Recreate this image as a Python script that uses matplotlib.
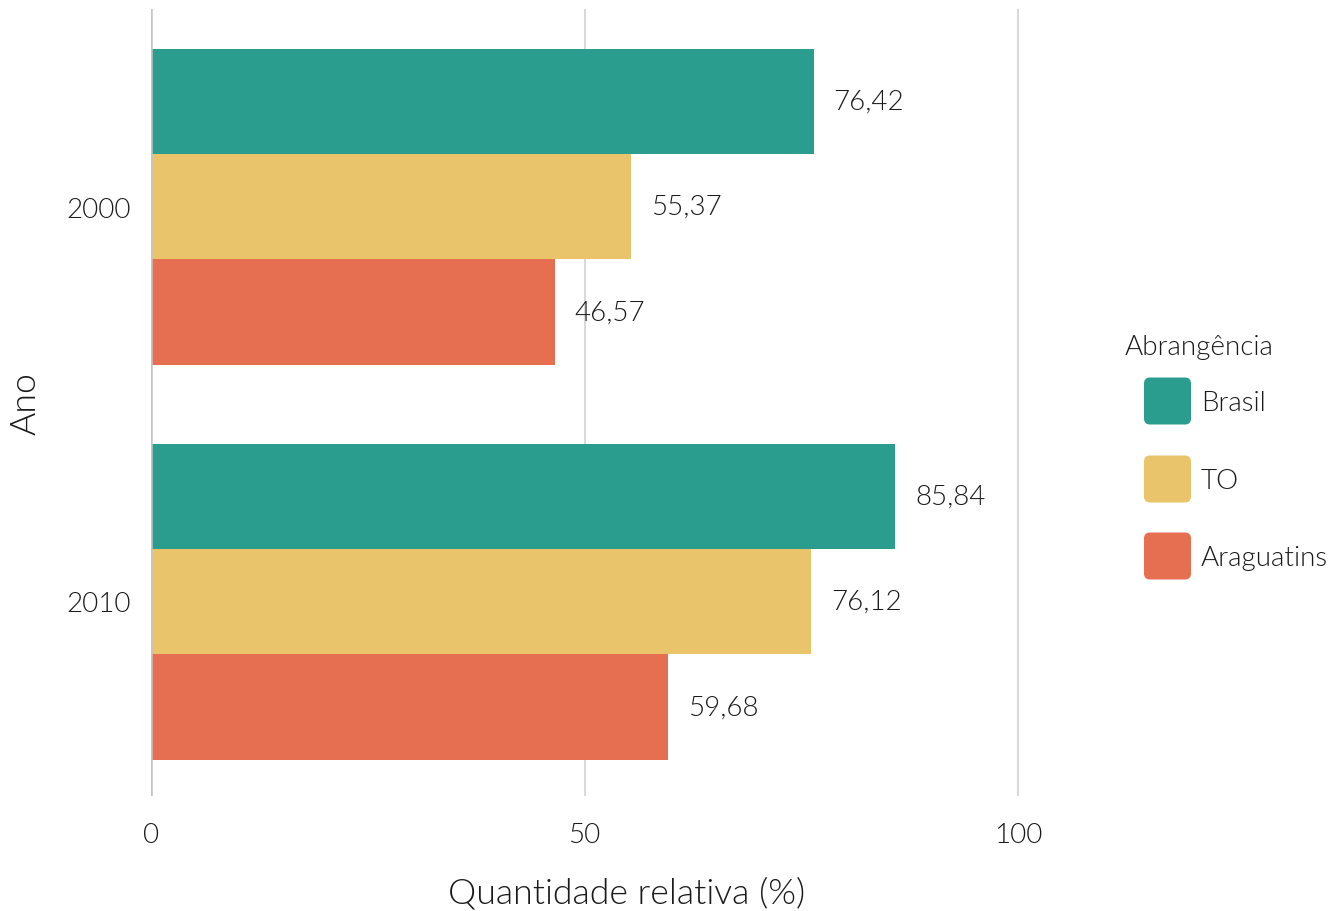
import numpy as np
import matplotlib.pyplot as plt
from matplotlib.patches import FancyBboxPatch

# Data
anos = ['2000', '2010']
grupos = ['Brasil', 'TO', 'Araguatins']
valores = {
    'Brasil': [76.42, 85.84],
    'TO': [55.37, 76.12],
    'Araguatins': [46.57, 59.68],
}
cores = ['#2A9D8F', '#E9C46A', '#E76F51']
x_ticks = [0, 50, 100]

plt.rcParams['font.family'] = ['Lato', 'DejaVu Sans']
texto = '#1a1a1a'
peso = 300

fig = plt.figure(figsize=(13.43, 9.12), dpi=100)
W, H = 1343, 912
x_dir = 1103
ax = fig.add_axes([151 / W, 1 - 797 / H, (x_dir - 151) / W, (797 - 10) / H])

largura = 0.8 / 3
pos = np.arange(len(anos))
for i, (g, c) in enumerate(zip(grupos, cores)):
    y = pos + (i - 1) * largura
    ax.barh(y, valores[g], height=largura, color=c, zorder=3)
    for yy, v in zip(y, valores[g]):
        ax.text(v + 2.3, yy, f'{v:.2f}'.replace('.', ','), va='center',
                ha='left', fontsize=20, fontweight=peso, color=texto)

ax.set_ylim(1 + 194.5 / 395, -0.5)
ax.set_xlim(0, (x_dir - 151) / 8.67)
ax.set_yticks(pos)
ax.set_yticklabels(anos)
ax.set_xticks(x_ticks)
ax.grid(axis='x', color='#d9d9d9', linewidth=1.5, zorder=0)
ax.axvline(0, color='#c4c4c4', linewidth=1.8, zorder=4)
for s in ax.spines.values():
    s.set_visible(False)
ax.tick_params(length=0, labelsize=20, colors=texto, pad=14.5)
ax.tick_params(axis='x', pad=18.5)
for lab in ax.get_xticklabels() + ax.get_yticklabels():
    lab.set_fontweight(peso)
ax.set_xlabel('Quantidade relativa (%)', fontsize=25.7, fontweight=peso,
              color=texto, labelpad=21)
ax.set_ylabel('Ano', fontsize=25.7, fontweight=peso, color=texto,
              labelpad=18)

# Legend drawn in pixel coordinates
lax = fig.add_axes([1110 / W, 0, (W - 1110) / W, 1])
lax.set_xlim(1110, W)
lax.set_ylim(H, 0)
lax.axis('off')
lax.text(1125, 348, 'Abrangência', fontsize=20, fontweight=peso,
         color=texto, va='center', ha='left')
for g, c, yc in zip(grupos, cores, [402, 480, 557]):
    lax.add_patch(FancyBboxPatch((1144, yc - 23.5), 47, 47,
                                 boxstyle='round,pad=0,rounding_size=6',
                                 facecolor=c, edgecolor='none'))
    lax.text(1201, yc + 2, g, fontsize=20, fontweight=peso, color=texto,
             va='center', ha='left')

fig.savefig('out.png', dpi=100)
